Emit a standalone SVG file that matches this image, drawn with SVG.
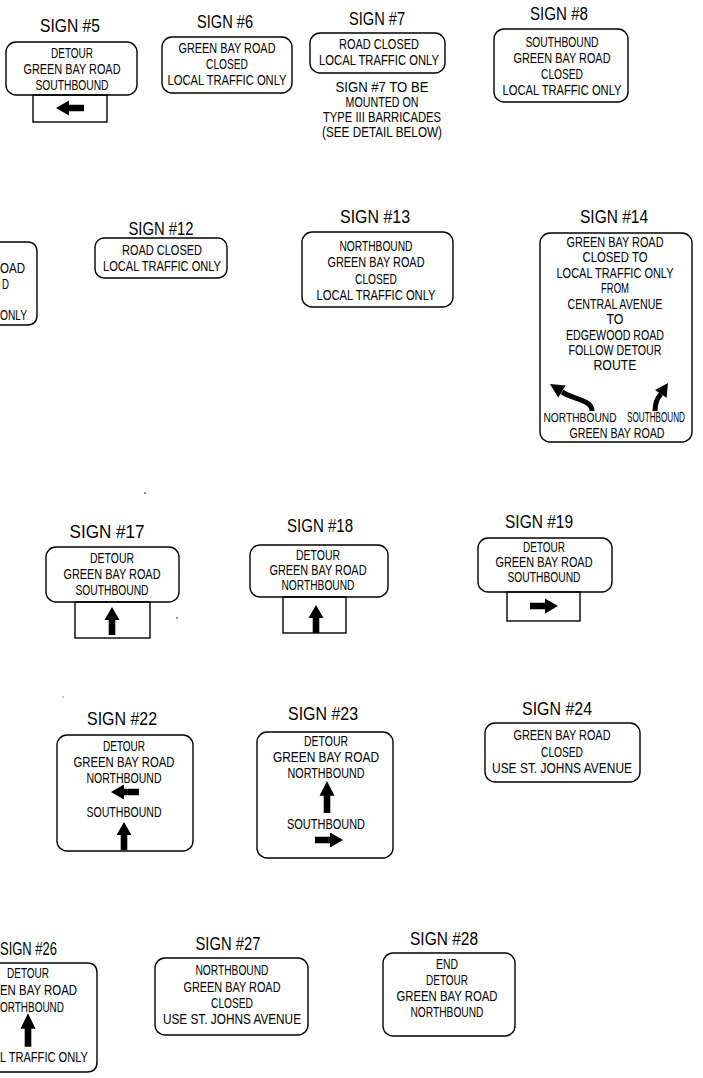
<svg xmlns="http://www.w3.org/2000/svg" xmlns:xlink="http://www.w3.org/1999/xlink" width="703" height="1078" viewBox="0 0 703 1078">
<style>
.bg{fill:#fff}
.box{fill:none;stroke:#000;stroke-width:1.4}
.t{font-family:"Liberation Sans",Arial,sans-serif;font-size:15px;fill:#000;text-anchor:middle}
.s{text-anchor:start}
.h{font-size:18px}
.sm{font-size:12px}
.ar{fill:#000}
.sh{fill:none;stroke:#000;stroke-width:5}
</style>
<defs>
<path id="arr" d="M0,-14 L7.5,-1 L3.3,-1 L3.3,14 L-3.3,14 L-3.3,-1 L-7.5,-1 Z"/>
</defs>
<rect class="bg" x="0" y="0" width="703" height="1078"/>
<g id="connectors"/>

<g id="sign5">
<text class="t h" x="70" y="32" textLength="60" lengthAdjust="spacingAndGlyphs">SIGN #5</text>
<rect class="box" x="6" y="42" width="131" height="53" rx="10"/>
<text class="t" x="72" y="58" textLength="42" lengthAdjust="spacingAndGlyphs">DETOUR</text>
<text class="t" x="72" y="74" textLength="97" lengthAdjust="spacingAndGlyphs">GREEN BAY ROAD</text>
<text class="t" x="72" y="90" textLength="73" lengthAdjust="spacingAndGlyphs">SOUTHBOUND</text>
<rect class="box" x="33" y="95" width="74" height="27"/>
<use class="ar" xlink:href="#arr" transform="translate(70,108) rotate(-90)"/>
</g>

<g id="sign6">
<text class="t h" x="225" y="28" textLength="56" lengthAdjust="spacingAndGlyphs">SIGN #6</text>
<rect class="box" x="162" y="37" width="130" height="56" rx="10"/>
<text class="t" x="227" y="53" textLength="97" lengthAdjust="spacingAndGlyphs">GREEN BAY ROAD</text>
<text class="t" x="227" y="69" textLength="42" lengthAdjust="spacingAndGlyphs">CLOSED</text>
<text class="t" x="227" y="85" textLength="119" lengthAdjust="spacingAndGlyphs">LOCAL TRAFFIC ONLY</text>
</g>

<g id="sign7">
<text class="t h" x="377" y="25" textLength="56" lengthAdjust="spacingAndGlyphs">SIGN #7</text>
<rect class="box" x="310" y="33" width="135" height="40" rx="10"/>
<text class="t" x="379" y="49" textLength="80" lengthAdjust="spacingAndGlyphs">ROAD CLOSED</text>
<text class="t" x="379" y="65" textLength="120" lengthAdjust="spacingAndGlyphs">LOCAL TRAFFIC ONLY</text>
<text class="t" x="382" y="92" textLength="93" lengthAdjust="spacingAndGlyphs">SIGN #7 TO BE</text>
<text class="t" x="382" y="107" textLength="73" lengthAdjust="spacingAndGlyphs">MOUNTED ON</text>
<text class="t" x="382" y="122" textLength="118" lengthAdjust="spacingAndGlyphs">TYPE III BARRICADES</text>
<text class="t" x="382" y="137" textLength="120" lengthAdjust="spacingAndGlyphs">(SEE DETAIL BELOW)</text>
</g>

<g id="sign8">
<text class="t h" x="559" y="20" textLength="58" lengthAdjust="spacingAndGlyphs">SIGN #8</text>
<rect class="box" x="494" y="29" width="134" height="73" rx="10"/>
<text class="t" x="562" y="47" textLength="73" lengthAdjust="spacingAndGlyphs">SOUTHBOUND</text>
<text class="t" x="562" y="63" textLength="97" lengthAdjust="spacingAndGlyphs">GREEN BAY ROAD</text>
<text class="t" x="562" y="79" textLength="42" lengthAdjust="spacingAndGlyphs">CLOSED</text>
<text class="t" x="562" y="95" textLength="119" lengthAdjust="spacingAndGlyphs">LOCAL TRAFFIC ONLY</text>
</g>

<g id="sign-partial-left">
<path class="box" d="M0,242 H27 Q37,242 37,252 V315 Q37,325 27,325 H0"/>
<text class="t s" x="0" y="273" textLength="25" lengthAdjust="spacingAndGlyphs">OAD</text>
<text class="t s" x="2" y="289" textLength="7" lengthAdjust="spacingAndGlyphs">D</text>
<text class="t s" x="0" y="320" textLength="27" lengthAdjust="spacingAndGlyphs">ONLY</text>
</g>

<g id="sign12">
<text class="t h" x="161" y="235" textLength="65" lengthAdjust="spacingAndGlyphs">SIGN #12</text>
<rect class="box" x="95" y="238" width="132" height="40" rx="9"/>
<text class="t" x="162" y="255" font-size="14" textLength="80" lengthAdjust="spacingAndGlyphs">ROAD CLOSED</text>
<text class="t" x="162" y="271" font-size="14" textLength="118" lengthAdjust="spacingAndGlyphs">LOCAL TRAFFIC ONLY</text>
</g>

<g id="sign13">
<text class="t h" x="375" y="223" textLength="70" lengthAdjust="spacingAndGlyphs">SIGN #13</text>
<rect class="box" x="302" y="232" width="151" height="75" rx="10"/>
<text class="t" x="376" y="251" textLength="73" lengthAdjust="spacingAndGlyphs">NORTHBOUND</text>
<text class="t" x="376" y="267" textLength="97" lengthAdjust="spacingAndGlyphs">GREEN BAY ROAD</text>
<text class="t" x="376" y="284" textLength="42" lengthAdjust="spacingAndGlyphs">CLOSED</text>
<text class="t" x="376" y="300" textLength="119" lengthAdjust="spacingAndGlyphs">LOCAL TRAFFIC ONLY</text>
</g>

<g id="sign14">
<text class="t h" x="614" y="223" textLength="68" lengthAdjust="spacingAndGlyphs">SIGN #14</text>
<rect class="box" x="540" y="233" width="152" height="209" rx="10"/>
<text class="t" x="615" y="247" textLength="97" lengthAdjust="spacingAndGlyphs">GREEN BAY ROAD</text>
<text class="t" x="615" y="262" textLength="65" lengthAdjust="spacingAndGlyphs">CLOSED TO</text>
<text class="t" x="615" y="278" font-size="14" textLength="117" lengthAdjust="spacingAndGlyphs">LOCAL TRAFFIC ONLY</text>
<text class="t" x="615" y="293" textLength="28" lengthAdjust="spacingAndGlyphs">FROM</text>
<text class="t" x="615" y="309" textLength="95" lengthAdjust="spacingAndGlyphs">CENTRAL AVENUE</text>
<text class="t" x="615" y="324" textLength="17" lengthAdjust="spacingAndGlyphs">TO</text>
<text class="t" x="615" y="340" textLength="98" lengthAdjust="spacingAndGlyphs">EDGEWOOD ROAD</text>
<text class="t" x="615" y="355" textLength="93" lengthAdjust="spacingAndGlyphs">FOLLOW DETOUR</text>
<text class="t" x="615" y="370" textLength="43" lengthAdjust="spacingAndGlyphs">ROUTE</text>
<path class="sh" d="M592,411 C592,400 575,400 562,392"/>
<polygon class="ar" points="550,384 565.6,385.4 558.2,397.4"/>
<path class="sh" d="M655,411 C655,402 657,398 661,394"/>
<polygon class="ar" points="668,383 666.6,397.7 655,389.9"/>
<text class="t sm" x="580" y="422" textLength="73" lengthAdjust="spacingAndGlyphs">NORTHBOUND</text>
<text class="t" x="656" y="422" font-size="10" textLength="58" lengthAdjust="spacingAndGlyphs">SOUTHBOUND</text>
<text class="t" x="617" y="438" textLength="95" lengthAdjust="spacingAndGlyphs">GREEN BAY ROAD</text>
</g>

<g id="sign17">
<text class="t h" x="107" y="538" textLength="75" lengthAdjust="spacingAndGlyphs">SIGN #17</text>
<rect class="box" x="46" y="547" width="133" height="55" rx="10"/>
<text class="t" x="112" y="563" textLength="44" lengthAdjust="spacingAndGlyphs">DETOUR</text>
<text class="t" x="112" y="579" textLength="97" lengthAdjust="spacingAndGlyphs">GREEN BAY ROAD</text>
<text class="t" x="112" y="595" textLength="73" lengthAdjust="spacingAndGlyphs">SOUTHBOUND</text>
<rect class="box" x="75" y="602" width="75" height="36"/>
<use class="ar" xlink:href="#arr" transform="translate(112,621)"/>
</g>

<g id="sign18">
<text class="t h" x="320" y="532" textLength="66" lengthAdjust="spacingAndGlyphs">SIGN #18</text>
<rect class="box" x="250" y="545" width="138" height="52" rx="10"/>
<text class="t" x="318" y="560" textLength="44" lengthAdjust="spacingAndGlyphs">DETOUR</text>
<text class="t" x="318" y="575" textLength="97" lengthAdjust="spacingAndGlyphs">GREEN BAY ROAD</text>
<text class="t" x="318" y="590" textLength="73" lengthAdjust="spacingAndGlyphs">NORTHBOUND</text>
<rect class="box" x="283" y="597" width="63" height="36"/>
<use class="ar" xlink:href="#arr" transform="translate(316,619)"/>
</g>

<g id="sign19">
<text class="t h" x="539" y="528" textLength="68" lengthAdjust="spacingAndGlyphs">SIGN #19</text>
<rect class="box" x="478" y="538" width="134" height="54" rx="10"/>
<text class="t" x="544" y="552" textLength="42" lengthAdjust="spacingAndGlyphs">DETOUR</text>
<text class="t" x="544" y="567" textLength="97" lengthAdjust="spacingAndGlyphs">GREEN BAY ROAD</text>
<text class="t" x="544" y="582" textLength="73" lengthAdjust="spacingAndGlyphs">SOUTHBOUND</text>
<rect class="box" x="507" y="592" width="73" height="29"/>
<use class="ar" xlink:href="#arr" transform="translate(544,606) rotate(90)"/>
</g>

<g id="sign22">
<text class="t h" x="122" y="725" textLength="70" lengthAdjust="spacingAndGlyphs">SIGN #22</text>
<rect class="box" x="57" y="735" width="136" height="116" rx="10"/>
<text class="t" x="124" y="751" textLength="42" lengthAdjust="spacingAndGlyphs">DETOUR</text>
<text class="t" x="124" y="767" textLength="101" lengthAdjust="spacingAndGlyphs">GREEN BAY ROAD</text>
<text class="t" x="124" y="783" textLength="75" lengthAdjust="spacingAndGlyphs">NORTHBOUND</text>
<use class="ar" xlink:href="#arr" transform="translate(125,792) rotate(-90)"/>
<text class="t" x="124" y="817" textLength="75" lengthAdjust="spacingAndGlyphs">SOUTHBOUND</text>
<use class="ar" xlink:href="#arr" transform="translate(124,836)"/>
</g>

<g id="sign23">
<text class="t h" x="323" y="720" textLength="70" lengthAdjust="spacingAndGlyphs">SIGN #23</text>
<rect class="box" x="257" y="732" width="136" height="126" rx="10"/>
<text class="t" x="326" y="746" textLength="44" lengthAdjust="spacingAndGlyphs">DETOUR</text>
<text class="t" x="326" y="762" textLength="106" lengthAdjust="spacingAndGlyphs">GREEN BAY ROAD</text>
<text class="t" x="326" y="778" textLength="77" lengthAdjust="spacingAndGlyphs">NORTHBOUND</text>
<use class="ar" xlink:href="#arr" transform="translate(327,797) scale(1,1.15)"/>
<text class="t" x="326" y="829" textLength="78" lengthAdjust="spacingAndGlyphs">SOUTHBOUND</text>
<use class="ar" xlink:href="#arr" transform="translate(329,840) rotate(90)"/>
</g>

<g id="sign24">
<text class="t h" x="557" y="715" textLength="70" lengthAdjust="spacingAndGlyphs">SIGN #24</text>
<rect class="box" x="485" y="723" width="155" height="59" rx="10"/>
<text class="t" x="562" y="740" textLength="97" lengthAdjust="spacingAndGlyphs">GREEN BAY ROAD</text>
<text class="t" x="562" y="757" textLength="42" lengthAdjust="spacingAndGlyphs">CLOSED</text>
<text class="t" x="562" y="773" textLength="140" lengthAdjust="spacingAndGlyphs">USE ST. JOHNS AVENUE</text>
</g>

<g id="sign26">
<text class="t h s" x="0" y="955" textLength="57" lengthAdjust="spacingAndGlyphs">SIGN #26</text>
<path class="box" d="M0,963 H87 Q97,963 97,973 V1062 Q97,1072 87,1072 H0"/>
<text class="t" x="28" y="978" textLength="42" lengthAdjust="spacingAndGlyphs">DETOUR</text>
<text class="t s" x="0" y="995" textLength="77" lengthAdjust="spacingAndGlyphs">EN BAY ROAD</text>
<text class="t s" x="0" y="1012" textLength="64" lengthAdjust="spacingAndGlyphs">ORTHBOUND</text>
<use class="ar" xlink:href="#arr" transform="translate(28,1030) scale(1,1.2)"/>
<text class="t s" x="0" y="1062" textLength="88" lengthAdjust="spacingAndGlyphs">L TRAFFIC ONLY</text>
</g>

<g id="sign27">
<text class="t h" x="228" y="950" textLength="65" lengthAdjust="spacingAndGlyphs">SIGN #27</text>
<rect class="box" x="155" y="958" width="153" height="77" rx="10"/>
<text class="t" x="232" y="975" textLength="73" lengthAdjust="spacingAndGlyphs">NORTHBOUND</text>
<text class="t" x="232" y="992" textLength="97" lengthAdjust="spacingAndGlyphs">GREEN BAY ROAD</text>
<text class="t" x="232" y="1008" textLength="42" lengthAdjust="spacingAndGlyphs">CLOSED</text>
<text class="t" x="232" y="1024" textLength="138" lengthAdjust="spacingAndGlyphs">USE ST. JOHNS AVENUE</text>
</g>

<g id="sign28">
<text class="t h" x="444" y="945" textLength="68" lengthAdjust="spacingAndGlyphs">SIGN #28</text>
<rect class="box" x="383" y="953" width="132" height="83" rx="10"/>
<text class="t" x="447" y="969" textLength="22" lengthAdjust="spacingAndGlyphs">END</text>
<text class="t" x="447" y="985" textLength="42" lengthAdjust="spacingAndGlyphs">DETOUR</text>
<text class="t" x="447" y="1001" textLength="101" lengthAdjust="spacingAndGlyphs">GREEN BAY ROAD</text>
<text class="t" x="447" y="1017" textLength="73" lengthAdjust="spacingAndGlyphs">NORTHBOUND</text>
</g>

<g id="specks" fill="#000">
<circle cx="145" cy="493" r="0.8"/>
<circle cx="177" cy="618" r="0.8"/>
<circle cx="63" cy="697" r="0.6"/>
</g>
</svg>
